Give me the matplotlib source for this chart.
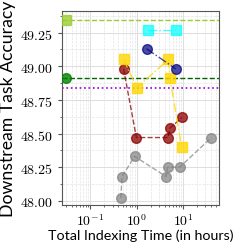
import numpy as np
import matplotlib.pyplot as plt
from matplotlib.ticker import FuncFormatter, LogLocator

plt.rcParams['mathtext.fontset'] = 'cm'
plt.rcParams['font.family'] = ['Lato', 'DejaVu Sans']

# reference baselines
flat_sq_x, flat_sq_y = [0.03], [49.34]
flat_ci_x, flat_ci_y = [0.03], [48.91]
purple_y = 48.84

cyan_x = [1.73, 6.9]
cyan_y = [49.27, 49.27]

blue_x = [1.62, 6.9]
blue_y = [49.13, 48.98]

gold_x = [0.52, 1.0, 4.8, 5.2, 9.2]
gold_y = [49.05, 48.84, 49.05, 48.91, 48.40]

red_x = [0.52, 0.98, 4.7, 5.2, 9.4]
red_y = [48.98, 48.47, 48.47, 48.54, 48.62]

gray_x = [0.455, 0.48, 0.90, 4.27, 4.6, 8.4, 40.5]
gray_y = [48.02, 48.18, 48.33, 48.18, 48.25, 48.25, 48.47]

fig, ax = plt.subplots(figsize=(2.43, 2.51), dpi=100)
fig.subplots_adjust(left=0.255, right=0.9, top=0.952, bottom=0.18)

ax.axhline(flat_sq_y[0], color='yellowgreen', ls='--', lw=1, zorder=2)
ax.axhline(flat_ci_y[0], color='darkgreen', ls='--', lw=1, zorder=2)
ax.axhline(purple_y, color='darkviolet', ls=':', lw=1.2, zorder=2)

ax.plot(flat_sq_x, flat_sq_y, 's', color='yellowgreen', ms=7, alpha=0.8, zorder=3)
ax.plot(flat_ci_x, flat_ci_y, 'o', color='green', ms=7, alpha=0.8, zorder=3)
ax.plot(gray_x, gray_y, 'o--', color='gray', ms=7, lw=1, alpha=0.7, zorder=3)
ax.plot(red_x, red_y, 'o--', color='darkred', ms=7, lw=1, alpha=0.75, zorder=3)
ax.plot(gold_x, gold_y, 's-.', color='gold', ms=7, lw=1, alpha=0.8, zorder=3)
ax.plot(blue_x, blue_y, 'o-.', color='navy', ms=7, lw=1, alpha=0.7, zorder=3)
ax.plot(cyan_x, cyan_y, 's-.', color='cyan', ms=7, lw=1, alpha=0.7, zorder=3)

ax.set_xscale('log')
ax.set_xlim(0.0245, 58)
ax.set_ylim(47.97, 49.41)
ax.set_yticks([48.0, 48.25, 48.5, 48.75, 49.0, 49.25])
ax.yaxis.set_major_formatter(FuncFormatter(lambda v, p: r'$%.2f$' % v))
ax.xaxis.set_major_locator(LogLocator(base=10, numticks=10))
ax.xaxis.set_major_formatter(FuncFormatter(lambda v, p: r'$10^{%d}$' % round(np.log10(v))))
ax.tick_params(labelsize=10, color='#555555', length=3)
ax.tick_params(axis='x', pad=2)
ax.tick_params(which='minor', length=1.5, color='#555555')

ax.grid(True, which='major', color='#dddddd', lw=0.7, zorder=0)
ax.grid(True, which='minor', color='#e4e4e4', lw=0.5, ls='--', zorder=0)
ax.minorticks_on()
ax.yaxis.set_minor_locator(plt.MultipleLocator(0.125))
for s in ax.spines.values():
    s.set_color('#555555')

ax.set_xlabel('Total Indexing Time (in hours)', fontsize=10.3, labelpad=1)
ax.set_ylabel('Downstream Task Accuracy', fontsize=12.7, labelpad=3)

plt.savefig('out.png', dpi=100)
